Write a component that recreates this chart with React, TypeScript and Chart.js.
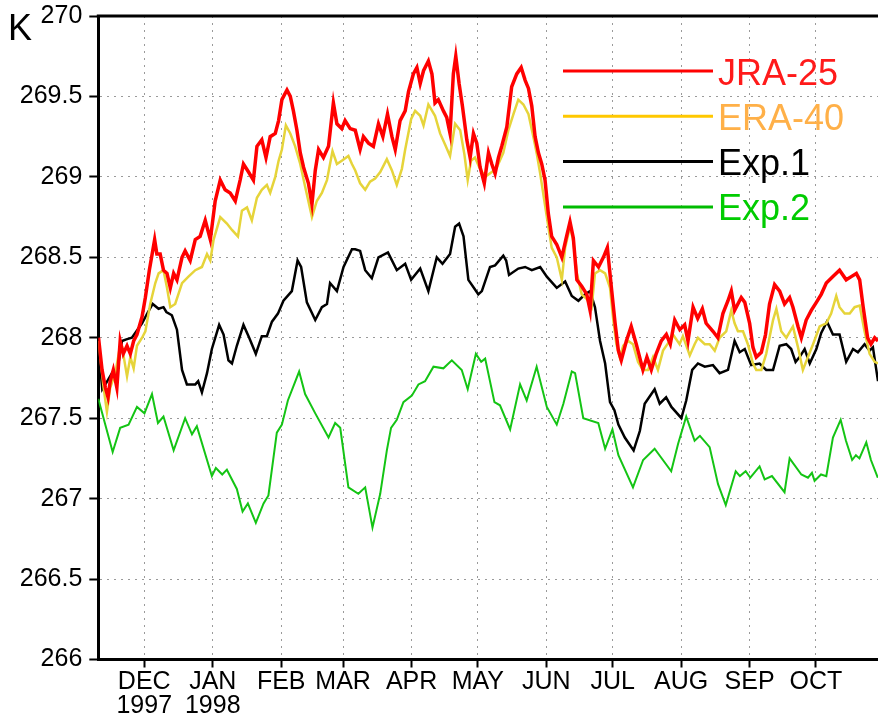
import React, { useEffect, useRef } from 'react';
import { Chart, registerables } from 'chart.js';

Chart.register(...registerables);

// x values are days counted from 1 December 1997
const X_MIN = -20.8;
const X_MAX = 332.1;
const MONTH_TICKS = [0, 31, 62, 90, 121, 151, 182, 212, 243, 274, 304];
const MONTH_LABELS = ['DEC', 'JAN', 'FEB', 'MAR', 'APR', 'MAY', 'JUN', 'JUL', 'AUG', 'SEP', 'OCT'];
const YEAR_TICKS = [0, 31];
const YEAR_LABELS = ['1997', '1998'];
const Y_TICKS = [266, 266.5, 267, 267.5, 268, 268.5, 269, 269.5, 270];
const UNIT_LABEL = 'K';
const SERIES_LABELS = ['JRA-25', 'ERA-40', 'Exp.1', 'Exp.2'];

const jraDays = [-20.7,-19.1,-17.6,-16.4,-15.4,-14.0,-12.4,-10.9,-9.5,-7.8,
-6.3,-4.8,-3.3,-1.0,0.5,2.3,4.7,5.7,7.2,8.7,
10.3,11.8,13.3,14.8,17.1,18.5,20.8,23.1,25.3,27.6,
29.9,32.1,34.4,36.6,38.9,41.2,43.4,44.9,47.2,49.4,
51.0,53.2,55.1,57.0,59.3,60.8,62.3,64.6,66.1,67.5,
69.1,70.6,72.1,74.3,75.9,77.4,78.9,81.1,83.4,85.6,
87.2,89.4,90.9,93.2,95.5,97.7,99.2,101.5,103.7,106.0,
108.0,110.1,112.1,113.6,115.8,118.1,119.6,121.8,123.4,124.9,
126.4,128.6,130.2,131.6,133.1,135.4,136.9,138.4,139.9,141.0,
142.5,144.0,146.0,147.5,149.0,150.5,152.0,153.9,155.8,157.3,
158.8,160.3,161.8,164.1,166.3,168.6,170.6,172.4,173.9,175.4,
176.9,178.4,179.9,181.4,182.9,184.4,186.7,189.0,190.8,192.7,
194.2,195.8,198.0,200.3,201.8,203.3,205.6,207.8,209.6,211.6,
213.1,214.6,215.9,218.2,220.4,222.7,225.7,227.5,229.5,231.7,
234.0,236.3,238.1,240.1,242.4,244.6,246.1,248.4,250.5,252.6,
254.3,257.4,259.6,261.9,264.2,265.7,267.2,270.2,271.8,274.0,
275.5,277.0,279.3,281.2,283.0,285.3,287.6,289.8,292.1,293.6,
295.9,297.4,299.6,301.9,304.2,306.4,308.7,311.7,314.7,317.7,
320.0,322.3,323.8,325.4,327.4,328.9,330.6,332.1];
const jraVals = [268.00,267.80,267.69,267.63,267.73,267.80,267.69,267.98,267.90,267.95,
267.90,267.98,268.02,268.13,268.25,268.42,268.61,268.52,268.52,268.42,
268.40,268.31,268.40,268.36,268.50,268.54,268.48,268.61,268.63,268.73,
268.61,268.85,268.98,268.92,268.90,268.85,268.98,269.08,269.03,268.98,
269.19,269.23,269.12,269.25,269.27,269.35,269.48,269.54,269.50,269.41,
269.29,269.15,269.06,268.96,268.83,269.04,269.17,269.12,269.19,269.46,
269.33,269.30,269.35,269.30,269.29,269.17,269.25,269.21,269.19,269.33,
269.25,269.39,269.25,269.17,269.35,269.41,269.53,269.64,269.68,269.58,
269.66,269.72,269.64,269.46,269.48,269.41,269.37,269.27,269.64,269.75,
269.58,269.44,269.23,269.12,269.27,269.21,269.06,268.96,269.15,269.08,
269.02,269.12,269.19,269.31,269.56,269.64,269.68,269.60,269.55,269.44,
269.25,269.15,269.08,268.98,268.77,268.63,268.58,268.50,268.61,268.72,
268.62,268.36,268.32,268.27,268.17,268.48,268.44,268.50,268.56,268.29,
268.09,267.92,267.86,267.98,268.07,267.96,267.80,267.88,267.80,267.90,
267.98,268.02,267.96,268.11,268.05,268.08,267.98,268.19,268.12,268.18,
268.09,268.04,268.00,268.15,268.23,268.29,268.17,268.25,268.22,268.09,
267.94,267.88,267.91,268.02,268.21,268.33,268.29,268.21,268.25,268.19,
268.07,268.00,268.11,268.17,268.22,268.27,268.34,268.38,268.42,268.36,
268.38,268.40,268.36,268.19,268.00,267.96,268.00,267.98];

const eraDays = [-20.7,-18.4,-16.9,-15.4,-13.1,-11.3,-10.0,-7.8,-6.3,-4.8,
-3.3,-1.0,0.5,2.7,5.0,6.5,8.7,10.3,11.8,14.0,
17.1,20.0,23.1,26.1,28.4,29.9,31.4,34.4,37.4,39.7,
42.4,44.2,46.5,48.7,51.0,53.2,55.5,57.0,59.3,60.8,
62.3,64.1,66.1,68.3,70.6,72.8,75.9,78.1,80.4,82.7,
85.2,87.2,89.4,92.4,94.0,95.5,97.7,100.0,102.2,104.5,
106.8,109.8,112.1,114.3,116.6,118.1,120.8,122.6,124.9,126.4,
128.6,131.6,133.9,136.2,138.4,140.7,143.0,144.9,146.4,147.9,
149.7,151.6,154.3,157.3,159.6,162.5,164.8,167.1,169.3,171.6,
173.9,176.1,177.7,179.2,181.1,182.9,184.4,186.7,189.0,190.5,
192.7,194.2,195.8,198.0,200.3,202.5,204.0,206.3,208.6,210.8,
212.3,213.7,215.2,216.8,219.0,221.2,223.5,225.7,228.0,230.3,
232.5,234.8,237.8,239.3,242.3,243.8,246.9,249.1,250.6,253.7,
255.9,258.2,260.4,263.4,265.7,267.2,268.7,271.0,273.2,275.5,
277.0,279.3,281.5,284.6,286.1,288.3,290.6,293.6,295.9,298.1,
300.4,302.7,305.7,308.7,310.9,313.2,314.7,317.0,319.3,321.5,
323.8,326.0,328.3,330.6,332.1];
const eraVals = [267.98,267.69,267.54,267.69,267.78,267.92,267.94,267.76,267.88,267.81,
267.95,268.00,268.04,268.21,268.34,268.40,268.42,268.31,268.19,268.21,
268.34,268.38,268.42,268.44,268.52,268.48,268.61,268.75,268.71,268.67,
268.63,268.79,268.81,268.73,268.87,268.92,268.95,268.90,269.00,269.10,
269.17,269.32,269.27,269.19,269.08,268.94,268.75,268.85,268.90,268.98,
269.16,269.08,269.10,269.13,269.08,269.04,268.96,268.92,268.97,268.99,
269.03,269.11,269.04,268.95,269.05,269.17,269.36,269.41,269.38,269.32,
269.45,269.38,269.27,269.20,269.13,269.33,269.29,269.14,268.98,269.10,
269.12,269.06,269.00,269.03,269.06,269.15,269.29,269.39,269.48,269.45,
269.39,269.25,269.14,269.02,268.85,268.69,268.56,268.50,268.36,268.56,
268.69,268.60,268.40,268.27,268.24,268.19,268.40,268.42,268.40,268.31,
268.11,267.96,267.88,267.95,267.98,267.96,267.85,267.80,267.80,267.88,
267.80,267.92,267.98,268.02,267.96,268.01,267.89,267.96,268.00,267.96,
267.96,267.92,268.00,268.04,268.17,268.09,268.04,268.04,267.96,267.84,
267.80,267.80,267.90,268.11,268.18,268.04,268.00,268.07,267.94,267.80,
267.88,267.96,268.07,268.09,268.15,268.26,268.19,268.15,268.15,268.19,
268.20,268.04,267.90,267.85,267.84];

const exp1Days = [-20.8,-19.0,-17.2,-14.6,-12.7,-10.1,-8.1,-5.6,-1.0,1.7,
3.8,6.5,8.7,10.0,12.5,14.8,17.1,19.3,23.1,24.4,
26.1,28.4,30.6,33.9,35.9,38.1,39.7,41.9,44.9,47.5,
50.5,53.2,55.5,57.8,60.5,63.0,66.8,69.4,71.0,73.6,
77.4,80.4,82.7,84.1,87.2,90.2,94.0,95.5,97.7,100.0,
103.0,106.0,110.3,114.3,118.1,120.8,124.9,128.6,132.4,135.0,
138.4,140.7,142.5,144.5,146.7,151.2,152.8,156.5,158.8,162.5,
163.8,165.1,169.3,172.4,175.4,179.2,182.2,186.7,190.5,193.5,
196.5,199.5,201.8,204.0,206.3,208.6,210.8,212.8,214.6,217.5,
221.5,224.3,226.5,231.0,233.3,236.2,238.6,243.1,245.3,248.0,
250.6,253.7,257.4,260.4,264.2,267.2,269.5,271.8,274.7,278.5,
281.5,284.6,287.6,290.6,292.8,294.8,296.6,298.9,301.2,304.2,
306.4,309.0,311.7,314.7,317.7,320.8,323.0,326.0,328.3,329.8,
332.1];
const exp1Vals = [267.95,267.68,267.72,267.78,267.75,267.98,267.99,268.00,268.09,268.16,
268.21,268.18,268.19,268.16,268.14,268.05,267.80,267.71,267.71,267.73,
267.66,267.78,267.93,268.08,268.02,267.86,267.84,267.95,268.08,268.00,
267.90,268.01,268.01,268.10,268.15,268.23,268.29,268.48,268.44,268.22,
268.11,268.19,268.21,268.34,268.29,268.44,268.55,268.55,268.54,268.42,
268.37,268.50,268.53,268.42,268.46,268.36,268.43,268.29,268.50,268.46,
268.52,268.69,268.71,268.63,268.36,268.27,268.29,268.44,268.45,268.51,
268.48,268.39,268.43,268.44,268.42,268.44,268.38,268.31,268.35,268.26,
268.23,268.27,268.29,268.19,267.98,267.84,267.60,267.55,267.46,267.38,
267.30,267.42,267.59,267.68,267.59,267.63,267.57,267.50,267.61,267.80,
267.84,267.82,267.83,267.78,267.80,267.98,267.91,267.93,267.83,267.84,
267.80,267.80,267.95,267.96,267.93,267.85,267.88,267.93,267.84,267.93,
268.03,268.10,268.02,268.02,267.85,267.93,267.91,267.96,267.92,267.94,
267.73];

const exp2Days = [-20.8,-14.3,-10.9,-7.1,-3.3,0.1,3.5,6.2,8.7,13.3,
18.5,21.6,23.8,30.6,32.4,35.3,37.4,41.9,44.5,46.9,
50.5,54.0,56.2,60.0,62.3,65.0,70.1,72.8,77.4,83.4,
86.4,88.7,92.4,96.9,100.0,103.3,106.8,109.8,111.7,114.3,
117.3,121.1,124.1,127.1,130.9,135.4,139.2,143.7,146.4,150.1,
152.5,154.3,158.5,161.0,165.6,170.1,173.1,177.6,182.2,186.7,
189.7,193.5,195.0,198.7,205.5,208.6,211.9,214.6,221.2,225.8,
231.0,238.5,241.6,245.3,249.1,251.5,255.9,259.7,263.2,267.7,
269.6,272.2,274.3,278.5,280.8,284.1,289.8,292.1,297.4,300.4,
302.2,303.4,306.3,308.7,311.7,315.2,317.6,320.4,322.1,323.7,
326.8,328.9,332.0];
const exp2Vals = [267.62,267.29,267.44,267.46,267.57,267.53,267.65,267.47,267.51,267.30,
267.50,267.40,267.45,267.14,267.19,267.15,267.18,267.06,266.92,266.97,
266.85,266.97,267.02,267.41,267.46,267.61,267.79,267.65,267.53,267.38,
267.47,267.44,267.07,267.03,267.07,266.82,267.03,267.30,267.44,267.49,
267.60,267.64,267.71,267.73,267.82,267.81,267.86,267.80,267.68,267.90,
267.85,267.87,267.60,267.58,267.43,267.71,267.61,267.82,267.57,267.46,
267.59,267.79,267.78,267.50,267.47,267.31,267.43,267.27,267.07,267.24,
267.31,267.17,267.34,267.51,267.36,267.39,267.32,267.09,266.96,267.17,
267.14,267.17,267.13,267.20,267.12,267.14,267.04,267.25,267.15,267.13,
267.16,267.11,267.15,267.14,267.38,267.49,267.36,267.24,267.27,267.25,
267.35,267.24,267.13];

const SERIES_DAYS = [jraDays, eraDays, exp1Days, exp2Days];
const SERIES_VALS = [jraVals, eraVals, exp1Vals, exp2Vals];

// styles
const FONT = "'Liberation Sans', Arial, Helvetica, sans-serif";
const NARROW = "'Liberation Sans Narrow', 'Arial Narrow', 'Liberation Sans', sans-serif";
const LINE_COLORS = ['#ff0000', '#e6d43a', '#000000', '#14c414'];
const LINE_WIDTHS = [3.5, 2.5, 2.5, 2];
const LEGEND_LINE_COLORS = ['#ff0000', '#ffc800', '#000000', '#00bb00'];
const LEGEND_TEXT_COLORS = ['#ff1a1a', '#ffb048', '#000000', '#00cc00'];
const GRID_COLOR = '#9a9a9a';

const overlayPlugin = {
  id: 'overlay',
  afterDraw(chart: any) {
    const { ctx, chartArea } = chart;
    ctx.save();
    ctx.strokeStyle = '#000';
    ctx.lineWidth = 3;
    ctx.beginPath();
    ctx.moveTo(chartArea.left - 1.5, chartArea.top);
    ctx.lineTo(chartArea.right, chartArea.top);
    ctx.stroke();

    ctx.fillStyle = '#000';
    ctx.font = `36px ${FONT}`;
    ctx.textAlign = 'left';
    ctx.textBaseline = 'alphabetic';
    ctx.fillText(UNIT_LABEL, 8, 40);

    chart.data.datasets.forEach((ds: any, i: number) => {
      const y = 71 + i * 45.3;
      ctx.strokeStyle = LEGEND_LINE_COLORS[i];
      ctx.lineWidth = 3;
      ctx.beginPath();
      ctx.moveTo(563, y);
      ctx.lineTo(713, y);
      ctx.stroke();
      ctx.fillStyle = LEGEND_TEXT_COLORS[i];
      ctx.fillText(ds.label, 718, y + 13.5);
    });
    ctx.restore();
  },
};

export default function App() {
  const canvasRef = useRef<HTMLCanvasElement | null>(null);

  useEffect(() => {
    const canvas = canvasRef.current;
    if (!canvas) return;
    const datasets = SERIES_LABELS.map((label, i) => ({
      label,
      data: SERIES_DAYS[i].map((d, j) => ({ x: d, y: SERIES_VALS[i][j] })),
      borderColor: LINE_COLORS[i],
      backgroundColor: LINE_COLORS[i],
      borderWidth: LINE_WIDTHS[i],
      pointRadius: 0,
      tension: 0,
      fill: false,
      xAxisID: 'x',
      yAxisID: 'y',
    }));
    const chart = new Chart(canvas, {
      type: 'line',
      data: { datasets },
      options: {
        animation: false,
        responsive: false,
        devicePixelRatio: 1,
        layout: { padding: { top: 16, right: 0, left: 0, bottom: 0 } },
        plugins: {
          legend: { display: false },
          tooltip: { enabled: false },
          title: { display: false },
        },
        scales: {
          x: {
            type: 'linear',
            position: 'bottom',
            weight: 0,
            min: X_MIN,
            max: X_MAX,
            afterBuildTicks: (s: any) => {
              s.ticks = MONTH_TICKS.map((v) => ({ value: v }));
            },
            ticks: {
              font: { family: NARROW, size: 25 },
              color: '#000',
              padding: 0,
              maxRotation: 0,
              autoSkip: false,
              callback: (v: any) => MONTH_LABELS[MONTH_TICKS.indexOf(Number(v))] ?? '',
            },
            grid: { color: GRID_COLOR, lineWidth: 1, tickLength: 8, tickColor: '#000', tickWidth: 2 },
            border: { color: '#000', width: 3, dash: [2, 5] },
            afterFit: (s: any) => {
              s.height = 31.7;
              s.paddingLeft = 0;
              s.paddingRight = 0;
            },
          },
          x2: {
            type: 'linear',
            axis: 'x',
            position: 'bottom',
            weight: 1,
            min: X_MIN,
            max: X_MAX,
            afterBuildTicks: (s: any) => {
              s.ticks = YEAR_TICKS.map((v) => ({ value: v }));
            },
            ticks: {
              font: { family: FONT, size: 25 },
              color: '#000',
              padding: 0,
              maxRotation: 0,
              autoSkip: false,
              callback: (v: any) => YEAR_LABELS[YEAR_TICKS.indexOf(Number(v))] ?? '',
            },
            grid: { display: false, drawTicks: false },
            border: { display: false },
            afterFit: (s: any) => {
              s.height = 29.8;
              s.paddingLeft = 0;
              s.paddingRight = 0;
            },
          },
          y: {
            type: 'linear',
            position: 'left',
            min: 266,
            max: 270,
            afterBuildTicks: (s: any) => {
              s.ticks = Y_TICKS.map((v) => ({ value: v }));
            },
            ticks: {
              font: { family: FONT, size: 25 },
              color: '#000',
              padding: 7,
              callback: (v: any) => String(v),
            },
            grid: { color: GRID_COLOR, lineWidth: 1, tickLength: 9, tickColor: '#000', tickWidth: 2 },
            border: { color: '#000', width: 3, dash: [2, 5] },
            afterFit: (s: any) => {
              s.width = 98.3;
              s.paddingTop = 0;
              s.paddingBottom = 0;
            },
          },
        },
      } as any,
      plugins: [overlayPlugin],
    });
    return () => chart.destroy();
  }, []);

  return (
    <div style={{ position: 'fixed', left: 0, top: 0, width: 878, height: 721, background: '#fff' }}>
      <canvas ref={canvasRef} width={878} height={721} style={{ display: 'block' }} />
    </div>
  );
}
